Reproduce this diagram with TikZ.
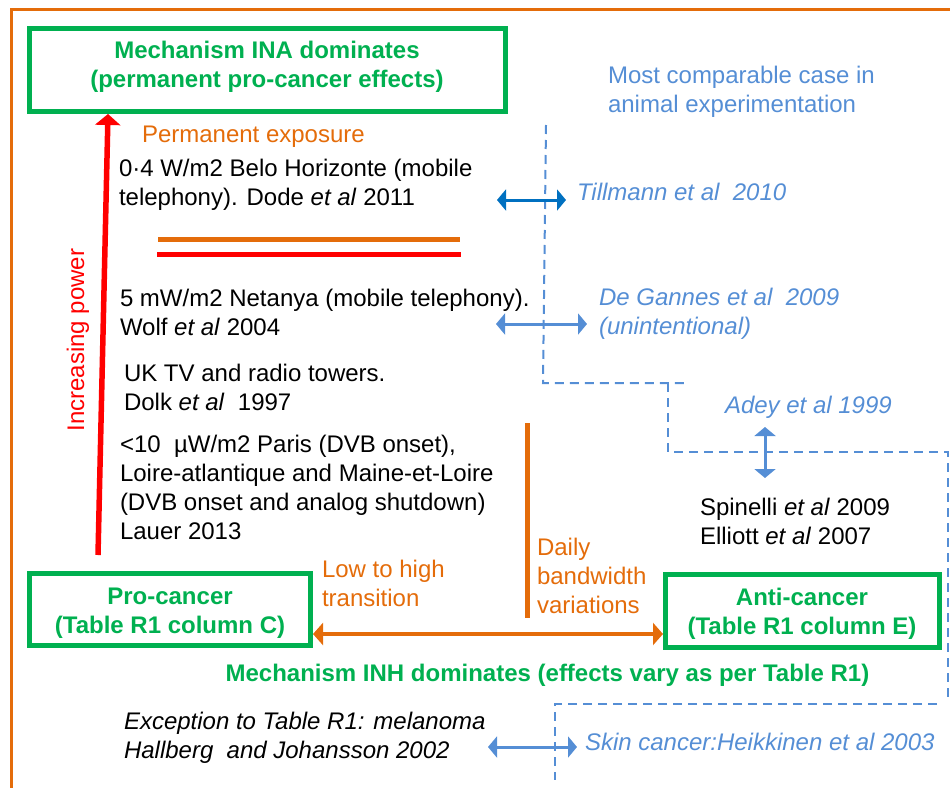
\documentclass[tikz,border=0pt]{standalone}
\usepackage{fontspec}
\setmainfont{Liberation Sans}
\usetikzlibrary{arrows.meta,calc}
\definecolor{cgreen}{RGB}{0,176,80}
\definecolor{corange}{RGB}{228,108,10}
\definecolor{cred}{RGB}{255,0,0}
\definecolor{cblue}{RGB}{85,142,213}
\definecolor{cdblue}{RGB}{0,112,192}
\newcommand\myfs{\fontsize{24}{29}\selectfont}
\begin{document}
\begin{tikzpicture}[x=1pt,y=-1pt,
  every node/.style={inner sep=0pt, outer sep=0pt, font=\myfs},
  gbox/.style={draw=cgreen, line width=5pt, outer sep=2.5pt},
  gtxt/.style={text=cgreen, font=\myfs\bfseries, align=center},
  ktxt/.style={text=black, anchor=west, align=left},
  otxt/.style={text=corange, anchor=west, align=left},
  btxt/.style={text=cblue, anchor=west, align=left, font=\myfs\itshape},
  bdash/.style={draw=cblue, line width=2pt, dash pattern=on 9pt off 6pt},
  barr/.style={line width=3pt, {Triangle[length=9pt,width=21pt]}-{Triangle[length=9pt,width=21pt]}},
  oarr/.style={draw=corange, line width=4pt, {Triangle[length=10pt,width=22pt]}-{Triangle[length=10pt,width=22pt]}},
  oline/.style={draw=corange, line width=5pt},
  rline/.style={draw=cred, line width=5pt}]
\useasboundingbox (0,0) rectangle (950,787);
\clip (0,0) rectangle (950,787);
% frame
\draw[corange, line width=3pt] (11,800) -- (11,9) -- (960,9);

% green boxes
\node[gbox, minimum width=476pt, minimum height=83pt] (inabox) at (267.5,70) {};
\node[gtxt] (ina) at (267,67) {Mechanism INA dominates\\(permanent pro-cancer effects)};
\node[gbox, minimum width=281pt, minimum height=72pt] (pcbox) at (170,609.5) {};
\node[gtxt] (pc) at (170,613.5) {Pro-cancer\\(Table R1 column C)};
\node[gbox, minimum width=274pt, minimum height=73pt] (acbox) at (802.5,611) {};
\node[gtxt] (ac) at (802,613.5) {Anti-cancer\\(Table R1 column E)};
\node[gtxt] (inh) at (547.5,675.5) {Mechanism INH dominates (effects vary as per Table R1)};

% texts
\node[btxt, font=\myfs] (most) at (608,91.5) {Most comparable case in\\animal experimentation};
\node[otxt] (perm) at (142,136.5) {Permanent exposure};
\node[ktxt] (dode) at (119,184.5) {0·4 W/m2 Belo Horizonte (mobile\\telephony). Dode \textit{et al} 2011};
\node[btxt] (till) at (577,192) {Tillmann et al\ \ 2010};
\node[ktxt] (wolf) at (120,312.5) {5 mW/m2 Netanya (mobile telephony).\\Wolf \textit{et al} 2004};
\node[btxt] (deg) at (599,314) {De Gannes et al\ \ 2009\\(unintentional)};
\node[ktxt] (dolk) at (124,387.5) {UK TV and radio towers.\\Dolk \textit{et al}\ \ 1997};
\node[ktxt] (lauer) at (120,487.6) {<10\ \ µW/m2 Paris (DVB onset),\\Loire-atlantique and Maine-et-Loire\\(DVB onset and analog shutdown)\\Lauer 2013};
\node[btxt] (adey) at (725,407) {Adey et al 1999};
\node[ktxt] (spin) at (700,521) {Spinelli \textit{et al} 2009\\Elliott \textit{et al} 2007};
\node[text=cred, rotate=90] (incp) at (78,340) {Increasing power};
\node[otxt] (lowhigh) at (322,583) {Low to high\\transition};
\node[otxt] (daily) at (537,576) {Daily\\bandwidth\\variations};
\node[ktxt, font=\myfs\itshape] (exc) at (124,738) {Exception to Table R1: melanoma\\Hallberg\ \ and Johansson 2002};
\node[btxt] (skin) at (585,742) {Skin cancer:Heikkinen et al 2003};

% red arrow (increasing power)
\coordinate (rbot) at (98,555);
\coordinate (rtop) at ($(inabox.south west)+(81,0)$);
\draw[cred, line width=5.5pt, -{Triangle[length=11pt,width=25pt]}] (rbot) -- (rtop);

% separator lines
\draw[oline] (158,239) -- (460,239);
\draw[rline] (157,254) -- (461,254);

% orange vertical line
\draw[oline] (527,423) -- (527,618);

% orange double arrow between boxes
\coordinate (oy) at (0,634);
\draw[oarr] (pcbox.east |- oy) -- (acbox.west |- oy);

% blue dashed boundary
\draw[bdash] (546,125) -- (543,383) -- (685,383);
\draw[bdash] (668,383) -- (668,452) -- (948,452) -- (948,702);
\draw[bdash] (937,704) -- (555,704) -- (555,780);

% blue arrows
\coordinate (ta) at (497,200);
\coordinate (tb) at (566,200);
\draw[barr, cdblue] (ta) -- (tb);
\coordinate (da) at (496,324);
\coordinate (db) at (587,324);
\draw[barr, cblue] (da) -- (db);
\coordinate (aa) at (765,427);
\coordinate (ab) at (765,478);
\draw[barr, cblue] (aa) -- (ab);
\coordinate (sa) at (488,747);
\coordinate (sb) at (577,747);
\draw[barr, cblue] (sa) -- (sb);
\end{tikzpicture}
\end{document}
